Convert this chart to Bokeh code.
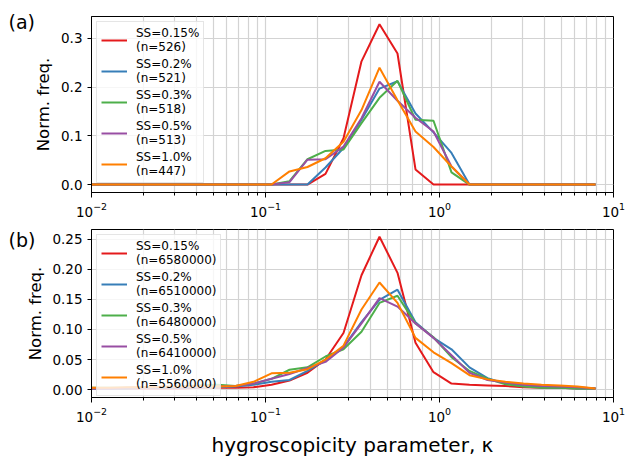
from bokeh.plotting import figure
from bokeh.layouts import column
from bokeh.models import Legend, LegendItem, FixedTicker, NumeralTickFormatter, Label, Range1d
from bokeh.embed import file_html
from bokeh.resources import INLINE
import math

# bin positions of the hygroscopicity parameter (kappa)
kappa = [0.0100, 0.01269, 0.01610, 0.02043, 0.02593, 0.03290, 0.04175, 0.05298,
         0.06723, 0.08532, 0.1083, 0.1374, 0.1743, 0.2212, 0.2807, 0.3562,
         0.4520, 0.5736, 0.7279, 0.9237, 1.172, 1.487, 1.888, 2.395, 3.040,
         3.857, 4.894, 6.211, 7.881]

ss_levels = ["0.15", "0.2", "0.3", "0.5", "1.0"]
n_a = ["526", "521", "518", "513", "447"]
n_b = ["6580000", "6510000", "6480000", "6410000", "5560000"]
colors = ["#e41a1c", "#377eb8", "#4daf4a", "#984ea3", "#ff7f00"]

# panel (a)
a_ss015 = [0, 0, 0, 0, 0, 0, 0, 0, 0, 0, 0, 0, 0, 0.022, 0.095, 0.253, 0.329, 0.269,
           0.031, 0, 0, 0, 0, 0, 0, 0, 0, 0, 0]
a_ss02 = [0, 0, 0, 0, 0, 0, 0, 0, 0, 0, 0, 0, 0, 0.035, 0.075, 0.133, 0.197, 0.212,
          0.146, 0.107, 0.065, 0, 0, 0, 0, 0, 0, 0, 0]
a_ss03 = [0, 0, 0, 0, 0, 0, 0, 0, 0, 0, 0, 0.007, 0.052, 0.069, 0.072, 0.126, 0.178, 0.213,
          0.133, 0.131, 0.025, 0, 0, 0, 0, 0, 0, 0, 0]
a_ss05 = [0, 0, 0, 0, 0, 0, 0, 0, 0, 0, 0, 0.005, 0.051, 0.052, 0.078, 0.136, 0.211, 0.172,
          0.137, 0.109, 0.037, 0, 0, 0, 0, 0, 0, 0, 0]
a_ss10 = [0, 0, 0, 0, 0, 0, 0, 0, 0, 0, 0, 0.027, 0.036, 0.054, 0.088, 0.153, 0.240, 0.173,
          0.109, 0.077, 0.037, 0, 0, 0, 0, 0, 0, 0, 0]

# panel (b)
b_ss015 = [0.002, 0.002, 0.002, 0.002, 0.002, 0.002, 0.003, 0.003, 0.003, 0.004, 0.008,
           0.015, 0.028, 0.050, 0.094, 0.190, 0.254, 0.194, 0.078, 0.029, 0.010, 0.008,
           0.007, 0.006, 0.004, 0.003, 0.003, 0.002, 0.002]
b_ss02 = [0.002, 0.002, 0.002, 0.003, 0.003, 0.003, 0.004, 0.004, 0.005, 0.008, 0.013,
          0.016, 0.031, 0.049, 0.071, 0.112, 0.149, 0.166, 0.112, 0.086, 0.067, 0.037,
          0.019, 0.010, 0.006, 0.004, 0.003, 0.002, 0.002]
b_ss03 = [0.003, 0.003, 0.003, 0.004, 0.004, 0.005, 0.007, 0.008, 0.006, 0.010, 0.018,
          0.033, 0.037, 0.055, 0.067, 0.096, 0.144, 0.156, 0.110, 0.087, 0.054, 0.031,
          0.018, 0.009, 0.005, 0.003, 0.003, 0.002, 0.002]
b_ss05 = [0.002, 0.002, 0.003, 0.003, 0.004, 0.004, 0.005, 0.005, 0.006, 0.010, 0.018,
          0.026, 0.036, 0.046, 0.070, 0.110, 0.152, 0.138, 0.110, 0.086, 0.057, 0.028,
          0.016, 0.012, 0.008, 0.006, 0.005, 0.004, 0.002]
b_ss10 = [0.003, 0.003, 0.004, 0.004, 0.005, 0.005, 0.006, 0.005, 0.006, 0.013, 0.027,
          0.028, 0.034, 0.050, 0.073, 0.133, 0.178, 0.144, 0.086, 0.062, 0.044, 0.024,
          0.017, 0.013, 0.010, 0.008, 0.007, 0.005, 0.002]

FONT = "DejaVu Sans"
FRAME_W = 522
FRAME_H = 177
LEFT = 91
X_LO, X_HI = 0.01, 10


def x_at_px(px_left_of_frame):
    # data x that lies the given number of pixels left of the frame's left edge
    span = math.log10(X_HI) - math.log10(X_LO)
    return 10 ** (math.log10(X_LO) - px_left_of_frame * span / FRAME_W)


def make_panel(series, nvals, yticks, yfmt, yrange, height, top, bottom,
               tag, tag_raise, ylab_px, xlabel=None):
    p = figure(width=628, height=height, x_axis_type="log",
               x_range=Range1d(X_LO, X_HI), y_range=Range1d(*yrange),
               output_backend="svg", toolbar_location=None,
               min_border_left=LEFT, min_border_right=628 - LEFT - FRAME_W,
               min_border_top=top, min_border_bottom=bottom)
    p.outline_line_color = "black"
    p.outline_line_width = 1
    p.background_fill_color = "white"
    p.border_fill_color = "white"

    minors = []
    for d in [0.01, 0.1, 1]:
        minors += [d * m for m in range(2, 10)]
    p.xaxis.ticker = FixedTicker(ticks=[0.01, 0.1, 1, 10], minor_ticks=minors)
    p.yaxis.ticker = FixedTicker(ticks=yticks, minor_ticks=[])
    p.yaxis.formatter = NumeralTickFormatter(format=yfmt)

    for ax in [p.xaxis, p.yaxis]:
        ax.axis_line_color = "black"
        ax.major_tick_line_color = "black"
        ax.minor_tick_line_color = "black"
        ax.major_tick_in = 0
        ax.major_tick_out = 5
        ax.minor_tick_in = 0
        ax.minor_tick_out = 3
        ax.major_label_text_font = FONT
        ax.major_label_text_font_size = "13.5px"
        ax.major_label_text_color = "black"
        ax.axis_label_text_font = FONT
        ax.axis_label_text_font_style = "normal"
        ax.axis_label_text_color = "black"
    p.yaxis.minor_tick_out = 0
    p.yaxis.major_tick_out = 4
    p.xaxis.major_label_standoff = 4
    p.yaxis.major_label_standoff = 5
    if xlabel:
        p.xaxis.axis_label = xlabel
        p.xaxis.axis_label_text_font_size = "20px"
        p.xaxis.axis_label_standoff = 8

    p.xgrid.grid_line_color = "#d3d3d3"
    p.xgrid.minor_grid_line_color = "#d3d3d3"
    p.ygrid.grid_line_color = "#d3d3d3"
    p.xgrid.grid_line_width = 1.2
    p.xgrid.minor_grid_line_width = 1.2
    p.ygrid.grid_line_width = 1.2

    items = []
    for ys, col, ss, n in zip(series, colors, ss_levels, nvals):
        r = p.line(kappa, ys, line_color=col, line_width=2)
        items.append(LegendItem(label="SS=%s%%\n(n=%s)" % (ss, n), renderers=[r]))
    leg = Legend(items=items, location="top_left")
    leg.background_fill_alpha = 0.8
    leg.border_line_color = "#cccccc"
    leg.border_line_width = 1
    leg.label_text_font = FONT
    leg.label_text_font_size = "12px"
    leg.label_text_color = "black"
    leg.label_text_line_height = 1.19
    leg.glyph_width = 26
    leg.glyph_height = 28
    leg.label_standoff = 9
    leg.padding = 4
    leg.margin = 5
    leg.spacing = 3
    p.add_layout(leg)

    # y-axis title, rotated, centred on the frame (side panel, not clipped)
    ymid = 0.5 * (yrange[0] + yrange[1])
    p.add_layout(Label(x=x_at_px(ylab_px), y=ymid, text="Norm. freq.", angle=math.pi / 2,
                       text_font=FONT, text_font_size="16.5px", text_align="center",
                       text_baseline="middle", text_color="black"), "left")

    # panel tag at the canvas' top-left, outside the frame
    ly = yrange[1] + tag_raise * (yrange[1] - yrange[0]) / FRAME_H
    p.add_layout(Label(x=x_at_px(LEFT - 8), y=ly, text=tag, text_font=FONT,
                       text_font_size="19px", text_baseline="top",
                       text_color="black"), "left")
    return p


pa = make_panel([a_ss015, a_ss02, a_ss03, a_ss05, a_ss10], n_a,
                [0, 0.1, 0.2, 0.3], "0.0", (-0.0163, 0.345), 219, 16, 26, "(a)", 6, 48)
pb = make_panel([b_ss015, b_ss02, b_ss03, b_ss05, b_ss10], n_b,
                [0, 0.05, 0.10, 0.15, 0.20, 0.25], "0.00", (-0.0131, 0.266), 240, 10, 53,
                "(b)", 1, 56, xlabel="hygroscopicity parameter, κ")

layout = column(pa, pb, spacing=0)
open("out.html", "w").write(file_html(layout, INLINE))
